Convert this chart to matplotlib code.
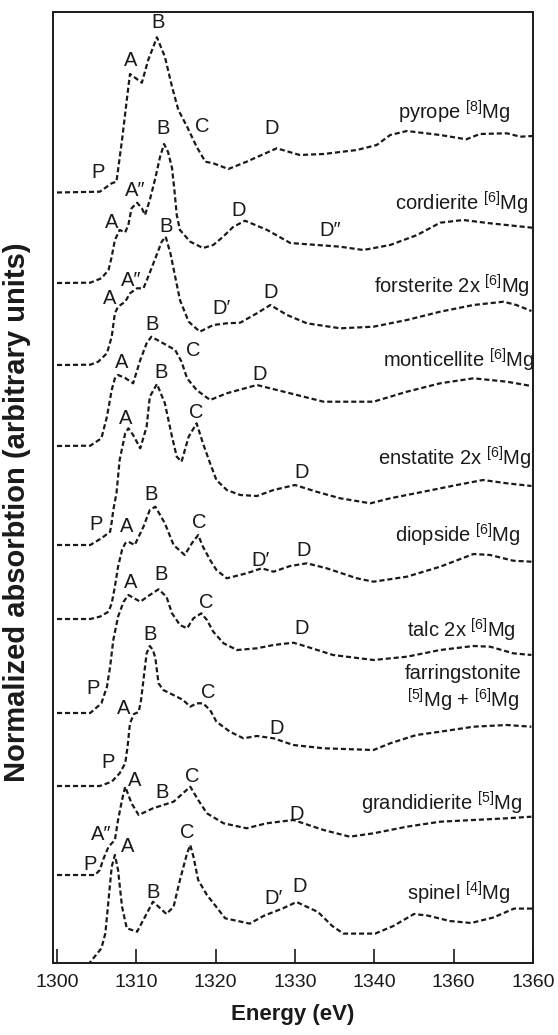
import matplotlib
matplotlib.use("Agg")
import matplotlib.pyplot as plt

plt.rcParams['font.family'] = ['Liberation Sans', 'DejaVu Sans']
plt.rcParams['mathtext.fontset'] = 'custom'
plt.rcParams['mathtext.rm'] = 'Liberation Sans'
plt.rcParams['mathtext.it'] = 'Liberation Sans'
plt.rcParams['mathtext.bf'] = 'Liberation Sans:bold'

# Mg K-edge XANES spectra: energy (eV) and normalized absorption above the pre-edge baseline
pyrope_e = [1300.0, 1305.4, 1306.9, 1307.5, 1308.2, 1308.8, 1309.2, 1310.7, 1311.5, 1312.6,
            1313.6, 1314.5, 1315.3, 1316.4, 1317.6, 1318.7, 1319.7, 1321.6, 1323.9, 1327.7,
            1330.6, 1333.6, 1337.8, 1340.3, 1342.0, 1344.1, 1348.3, 1351.6, 1353.3, 1356.7,
            1358.4, 1359.9]
pyrope_mu = [0.0, 0.08, 0.92, 1.08, 5.25, 9.25, 11.85, 10.98, 13.25, 15.52,
             13.58, 10.58, 8.25, 6.58, 4.58, 3.08, 2.92, 2.35, 3.08, 4.42,
             3.75, 3.85, 4.25, 4.75, 5.75, 6.15, 5.75, 5.32, 5.85, 5.92,
             5.58, 5.65]

cordierite_e = [1300.0, 1304.2, 1305.6, 1306.5, 1306.9, 1307.3, 1307.9, 1308.6, 1309.0, 1309.4,
                1310.1, 1310.7, 1311.1, 1311.7, 1312.4, 1313.0, 1313.5, 1314.0, 1314.5, 1314.8,
                1315.1, 1315.5, 1316.8, 1318.4, 1319.7, 1320.9, 1322.2, 1323.7, 1326.5, 1329.4,
                1332.8, 1335.7, 1338.6, 1342.0, 1345.4, 1348.3, 1351.2, 1354.6, 1359.9]
cordierite_mu = [0.0, 0.03, 0.47, 1.3, 2.63, 4.3, 5.3, 5.07, 5.8, 7.47,
                 8.03, 7.47, 6.8, 8.3, 10.5, 12.63, 13.9, 13.1, 11.5, 9.3,
                 6.8, 5.3, 4.13, 3.5, 3.8, 4.6, 5.6, 6.23, 5.3, 4.0,
                 3.8, 3.63, 3.3, 3.8, 4.8, 6.03, 6.3, 5.97, 5.53]

forsterite_e = [1300.0, 1304.2, 1305.2, 1306.3, 1306.9, 1307.3, 1307.7, 1308.6, 1309.2, 1310.1,
                1310.9, 1311.5, 1312.4, 1313.2, 1313.7, 1314.3, 1314.9, 1315.5, 1316.6, 1318.0,
                1319.7, 1321.4, 1323.1, 1325.2, 1326.9, 1329.0, 1331.5, 1335.7, 1339.9, 1344.1,
                1348.3, 1352.5, 1356.3, 1357.9, 1359.8]
forsterite_mu = [0.0, 0.03, 0.33, 1.17, 2.83, 5.17, 5.83, 6.33, 7.17, 7.67,
                 7.67, 8.83, 10.67, 12.33, 12.83, 11.17, 8.83, 6.5, 4.33, 3.33,
                 4.0, 4.17, 4.23, 5.17, 6.0, 5.0, 4.17, 3.67, 3.83, 4.5,
                 5.33, 6.0, 6.33, 6.0, 5.4]

monticellite_e = [1300.0, 1304.2, 1305.6, 1306.3, 1306.9, 1307.3, 1307.7, 1308.6, 1309.6, 1310.5,
                  1311.3, 1311.9, 1313.4, 1314.9, 1315.7, 1316.4, 1317.6, 1319.3, 1321.4, 1325.2,
                  1329.4, 1333.6, 1339.9, 1344.1, 1348.3, 1352.5, 1356.7, 1359.8]
monticellite_mu = [0.0, 0.03, 0.77, 2.93, 5.6, 6.77, 7.1, 6.8, 6.27, 8.6,
                   10.27, 10.93, 10.27, 9.6, 8.43, 6.77, 5.6, 4.6, 5.27, 6.1,
                   5.27, 4.43, 4.43, 5.43, 6.27, 6.77, 6.43, 6.0]

enstatite_e = [1300.0, 1304.2, 1305.6, 1306.7, 1306.9, 1307.1, 1307.5, 1307.9, 1308.6, 1309.0,
               1309.6, 1310.5, 1311.3, 1311.7, 1312.6, 1313.6, 1314.5, 1315.1, 1315.7, 1316.6,
               1317.6, 1318.4, 1319.3, 1320.1, 1321.4, 1323.1, 1325.2, 1327.3, 1330.0, 1332.7,
               1335.7, 1339.5, 1342.0, 1346.2, 1350.4, 1353.7, 1356.7, 1359.8]
enstatite_mu = [0.0, 0.0, 0.67, 1.33, 2.3, 3.5, 5.17, 8.5, 11.17, 11.67,
                11.0, 9.67, 11.83, 14.83, 16.1, 14.17, 10.83, 8.83, 8.33, 10.83,
                12.17, 10.17, 8.17, 6.5, 5.5, 5.0, 4.9, 5.5, 6.0, 5.33,
                4.67, 4.17, 4.67, 5.33, 6.0, 6.5, 6.17, 5.9]

diopside_e = [1300.0, 1304.2, 1305.4, 1306.5, 1306.9, 1307.3, 1307.7, 1308.2, 1308.6, 1309.0,
              1309.8, 1310.9, 1311.7, 1312.4, 1313.6, 1314.7, 1316.1, 1317.0, 1317.8, 1318.4,
              1319.3, 1320.1, 1321.4, 1323.9, 1325.8, 1327.3, 1329.4, 1331.5, 1334.0, 1337.8,
              1339.9, 1344.1, 1348.3, 1352.5, 1354.6, 1357.5, 1359.8]
diopside_mu = [0.0, 0.0, 0.23, 0.73, 1.57, 3.23, 5.23, 6.9, 7.57, 7.73,
               7.4, 9.23, 10.9, 11.23, 9.57, 7.4, 6.4, 7.57, 8.4, 7.23,
               5.9, 4.9, 4.07, 4.57, 5.07, 4.73, 5.3, 5.57, 5.07, 4.07,
               3.73, 4.23, 5.23, 6.5, 6.4, 5.83, 5.73]

talc_e = [1300.0, 1304.2, 1305.6, 1306.3, 1306.7, 1307.1, 1307.7, 1308.4, 1309.0, 1310.5,
          1311.7, 1312.8, 1313.8, 1314.5, 1315.5, 1316.4, 1317.2, 1318.2, 1318.9, 1319.7,
          1321.0, 1322.7, 1325.2, 1327.3, 1329.8, 1331.5, 1334.8, 1339.9, 1344.1, 1348.3,
          1352.5, 1354.6, 1357.5, 1359.8]
talc_mu = [0.0, 0.0, 0.97, 2.63, 4.63, 7.3, 9.63, 11.13, 11.8, 11.13,
           11.8, 12.37, 11.63, 9.97, 8.8, 8.47, 9.47, 9.97, 9.3, 8.13,
           6.97, 6.3, 6.47, 6.8, 7.03, 6.63, 5.8, 5.3, 5.63, 6.3,
           6.7, 6.63, 5.97, 5.8]

farringstonite_e = [1300.0, 1305.4, 1306.9, 1307.9, 1308.6, 1308.9, 1309.2, 1309.7, 1310.3, 1310.6,
                    1310.9, 1311.3, 1311.7, 1312.1, 1312.4, 1312.8, 1313.4, 1315.1, 1315.9, 1316.8,
                    1317.6, 1318.4, 1319.3, 1320.1, 1321.8, 1323.5, 1325.2, 1327.3, 1329.8, 1333.6,
                    1339.9, 1342.0, 1345.3, 1348.3, 1352.5, 1356.7, 1359.8]
farringstonite_mu = [0.0, 0.0, 0.43, 1.27, 2.27, 3.93, 6.27, 7.2, 7.4, 8.6,
                     10.6, 13.27, 14.0, 13.6, 12.8, 10.27, 9.6, 8.93, 8.6, 7.93,
                     8.27, 8.27, 7.6, 6.43, 5.43, 4.77, 5.0, 4.77, 4.1, 3.77,
                     3.6, 4.27, 5.1, 5.43, 5.93, 6.1, 5.93]

grandidierite_e = [1300.0, 1304.8, 1305.4, 1305.8, 1306.5, 1307.3, 1307.7, 1308.2, 1308.6, 1309.4,
                   1310.3, 1312.1, 1314.7, 1316.8, 1317.8, 1318.9, 1321.0, 1323.9, 1326.4, 1329.8,
                   1333.6, 1336.9, 1339.9, 1344.1, 1348.3, 1352.5, 1356.7, 1359.8]
grandidierite_mu = [0.0, 0.0, 0.5, 1.5, 2.83, 3.5, 5.5, 7.5, 8.83, 7.17,
                    6.0, 6.67, 7.33, 8.83, 7.5, 6.17, 5.17, 4.67, 5.17, 5.5,
                    4.5, 3.83, 4.17, 4.83, 5.33, 5.5, 5.67, 5.83]

spinel_e = [1303.9, 1305.6, 1306.1, 1306.5, 1306.9, 1307.3, 1307.7, 1308.2, 1308.8, 1310.1,
            1311.1, 1312.1, 1312.8, 1313.8, 1314.7, 1315.5, 1316.4, 1316.8, 1317.2, 1317.8,
            1318.9, 1319.9, 1321.2, 1322.2, 1324.3, 1326.1, 1328.4, 1330.2, 1332.9, 1334.7,
            1336.1, 1340.1, 1342.4, 1345.0, 1346.8, 1349.5, 1352.2, 1355.0, 1357.6, 1359.9]
spinel_mu = [-0.2, 1.47, 2.97, 6.3, 9.63, 10.8, 9.3, 5.63, 3.47, 3.13,
             4.63, 6.13, 5.63, 4.9, 5.63, 8.3, 10.97, 11.8, 10.63, 8.3,
             6.8, 5.8, 4.47, 4.3, 3.94, 4.73, 5.44, 6.1, 5.1, 3.7,
             2.94, 2.94, 3.7, 4.9, 4.73, 4.2, 4.0, 4.55, 5.44, 5.44]

# Vertical stacking offsets for each spectrum
stack_offsets = [77.05, 68.0, 59.8, 51.7, 41.8, 34.4, 25.0, 17.7, 8.8, 0.0]
spectra = [(pyrope_e, pyrope_mu), (cordierite_e, cordierite_mu),
           (forsterite_e, forsterite_mu), (monticellite_e, monticellite_mu),
           (enstatite_e, enstatite_mu), (diopside_e, diopside_mu),
           (talc_e, talc_mu), (farringstonite_e, farringstonite_mu),
           (grandidierite_e, grandidierite_mu), (spinel_e, spinel_mu)]

# Sample names: (text, energy of right edge, height)
sample_names = [
    (r"pyrope $^{[8]}$Mg", 1357.1, 85.1),
    (r"cordierite $^{[6]}$Mg", 1359.4, 76.0),
    (r"forsterite 2x $^{[6]}$Mg", 1359.6, 67.7),
    (r"monticellite $^{[6]}$Mg", 1360.2, 60.3),
    (r"enstatite 2x $^{[6]}$Mg", 1359.8, 50.5),
    (r"diopside $^{[6]}$Mg", 1358.4, 42.8),
    (r"talc 2x $^{[6]}$Mg", 1357.9, 33.3),
    (r"grandidierite $^{[5]}$Mg", 1358.7, 16.0),
    (r"spinel $^{[4]}$Mg", 1357.1, 7.0),
]
farringstonite_name = "farringstonite\n" + r"$^{[5]}$Mg + $^{[6]}$Mg"

# Spectral feature labels: (text, energy, height)
feature_labels = [
    ("P", 1305.2, 79.1), ("A", 1309.3, 90.3), ("B", 1312.8, 94.0), ("C", 1318.3, 83.6), ("D", 1327.1, 83.5),
    ("A\u2033", 1309.8, 77.2), ("B", 1313.4, 83.5), ("A", 1306.9, 74.1), ("D", 1322.9, 75.2), ("D\u2033", 1334.4, 73.3),
    ("B", 1313.8, 73.6), ("A\u2033", 1309.4, 68.3), ("A", 1306.7, 66.5), ("D\u2032", 1320.8, 65.5), ("D", 1326.9, 67.0),
    ("B", 1312.0, 63.8), ("A", 1308.2, 60.1), ("C", 1317.2, 61.3), ("D", 1325.6, 58.9),
    ("A", 1308.7, 54.4), ("B", 1313.1, 59.1), ("C", 1317.6, 55.1), ("D", 1330.9, 49.0),
    ("P", 1304.9, 43.9), ("A", 1308.8, 43.6), ("B", 1311.9, 46.8), ("C", 1317.9, 44.0), ("D\u2032", 1325.6, 40.3), ("D", 1331.1, 41.3),
    ("A", 1309.3, 38.0), ("B", 1313.1, 38.8), ("C", 1318.8, 36.1), ("D", 1330.9, 33.4),
    ("B", 1311.7, 32.9), ("C", 1319.1, 27.0), ("D", 1327.7, 23.5), ("P", 1304.5, 27.4), ("A", 1308.4, 25.5),
    ("P", 1306.5, 20.0), ("A", 1309.8, 18.3), ("B", 1313.2, 17.1), ("C", 1317.1, 18.6), ("D", 1330.2, 14.8),
    ("A\u2033", 1305.6, 12.8), ("P", 1304.2, 9.9),
    ("A", 1308.9, 11.6), ("C", 1316.4, 13.1), ("B", 1312.1, 7.0), ("D\u2032", 1327.3, 6.5), ("D", 1330.6, 7.7),
]

tick_values = [1300, 1310, 1320, 1330, 1340, 1350, 1360]
tick_labels = ["1300", "1310", "1320", "1330", "1340", "1360", "1360"]

fig = plt.figure(figsize=(5.58, 10.35), dpi=100)
ax = fig.add_axes([53 / 558, 72 / 1035, 480 / 558, 951.3 / 1035])

for (energy, mu), off in zip(spectra, stack_offsets):
    ax.plot(energy, [m + off for m in mu], color="#1a1a1a", lw=1.6,
            linestyle=(0, (2.3, 1.3)), dash_capstyle="butt")

txt_color = "#1a1a1a"
for s, x, y in feature_labels:
    ax.text(x, y, s, ha="center", va="center", fontsize=14.5, color=txt_color)
for s, x, y in sample_names:
    ax.text(x, y, s, ha="right", va="center", fontsize=14.5, color=txt_color)
ax.text(1351.2, 27.4, farringstonite_name, ha="center", va="center", fontsize=14.5,
        color=txt_color, multialignment="center", linespacing=1.2)

ax.set_xlim(1299.5, 1360)
ax.set_ylim(0, 95.13)
ax.set_xticks(tick_values)
ax.set_xticklabels(tick_labels)
ax.set_yticks([])
ax.tick_params(axis="x", direction="in", length=10, width=1.2, pad=8,
               labelsize=14, colors=txt_color)
for sp in ax.spines.values():
    sp.set_linewidth(1.4)
    sp.set_color("#1a1a1a")

ax.set_xlabel("Energy (eV)", fontsize=16, fontweight="bold", labelpad=9, color=txt_color)
fig.text(0.031, 0.505, "Normalized absorbtion (arbitrary units)", rotation=90,
         ha="center", va="center", fontsize=21, fontweight="bold", color=txt_color)

fig.savefig("out.png", dpi=100)
